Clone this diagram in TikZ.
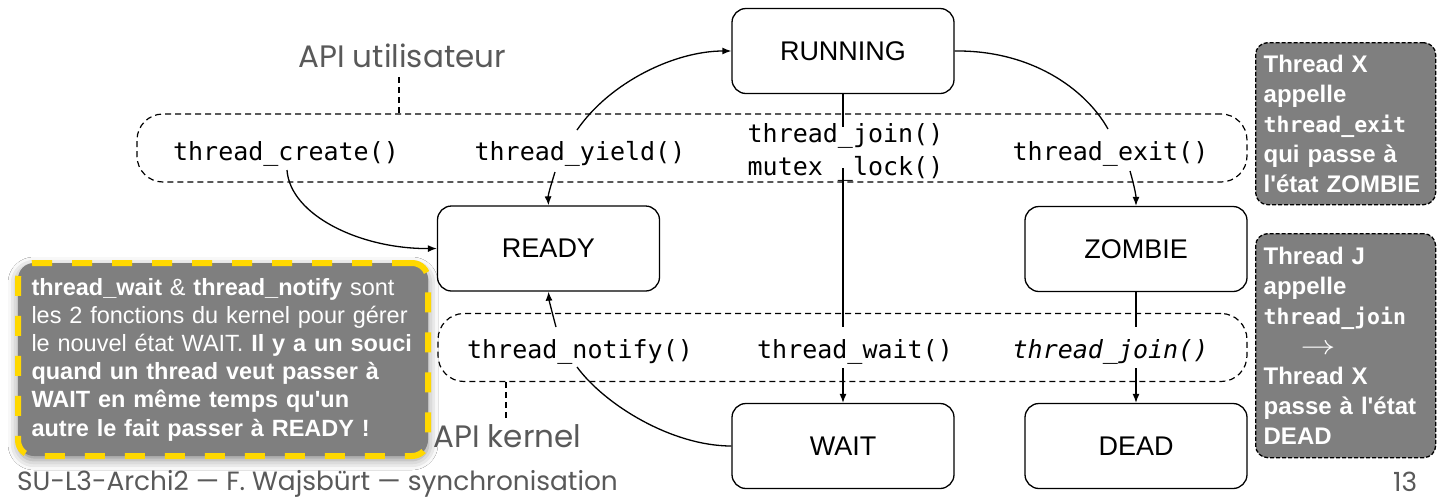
\documentclass[tikz,border=0pt]{standalone}
\usepackage{fontspec}
\setmainfont{Liberation Sans}
\newfontfamily\codefont{DejaVu Sans Mono}
\newfontfamily\slidefont{Poppins}
\usetikzlibrary{arrows.meta,shadows.blur}
\definecolor{boxgray}{HTML}{7F7F7F}
\definecolor{notegold}{HTML}{FFD800}
\definecolor{captiongray}{HTML}{595959}

\begin{document}
\begin{tikzpicture}[x=1pt,y=-1pt,
  state/.style={draw, line width=1.3pt, rounded corners=14pt,
    minimum width=222pt, minimum height=85pt, inner sep=0pt,
    font=\fontsize{27pt}{32pt}\selectfont},
  call/.style={inner sep=0pt, anchor=base,
    font=\codefont\fontsize{25pt}{33pt}\selectfont},
  apiband/.style={draw, line width=1.2pt, dash pattern=on 6pt off 4pt,
    rounded corners=26pt, minimum height=68pt, inner sep=0pt},
  leader/.style={line width=1.2pt, dash pattern=on 6pt off 4pt},
  caption/.style={inner sep=0pt, anchor=base west, text=captiongray,
    font=\slidefont\fontsize{31pt}{36pt}\selectfont},
  footer/.style={inner sep=0pt, anchor=base west, text=captiongray,
    font=\slidefont\fontsize{26.4pt}{30pt}\selectfont},
  link/.style={line width=1.3pt},
  arrow/.style={link, -{Latex[length=9pt,width=7pt]}},
  infobox/.style={draw, line width=1.3pt, dash pattern=on 4pt off 2pt,
    fill=boxgray, rounded corners=12pt, anchor=north west,
    inner xsep=8pt, inner ysep=0pt, align=left, text=white,
    font=\bfseries\fontsize{24pt}{30pt}\selectfont},
  warnbox/.style={draw=notegold, line width=6pt, dash pattern=on 20pt off 20pt,
    fill=boxgray, rounded corners=16pt, anchor=north west,
    inner xsep=13.5pt, inner ysep=0pt, align=left, text=white,
    blur shadow={shadow xshift=0pt, shadow yshift=-4pt,
      shadow blur radius=10pt, shadow opacity=45},
    font=\fontsize{23.5pt}{28.2pt}\selectfont}
]
\fill[white] (0,0) rectangle (1443,499);
\useasboundingbox (0,0) rectangle (1443,499);

% dashed bands grouping the API calls
\node[apiband, minimum width=1110pt] (uapi) at (692,148) {};
\node[apiband, minimum width=809pt] (kapi) at (842.5,347.5) {};

% band captions with their leaders
\node[caption] (ucap) at (298,67) {API utilisateur};
\node[caption] (kcap) at (433,447) {API kernel};
\coordinate (utick) at (399,77);
\coordinate (ktick) at (506,418);
\draw[leader] (utick) -- (utick |- uapi.north);
\draw[leader] (ktick) -- (ktick |- kapi.south);

% thread states
\node[state] (run)   at (843,51)      {RUNNING};
\node[state] (ready) at (548.5,248.5) {READY};
\node[state] (zom)   at (1136,249)    {ZOMBIE};
\node[state] (wait)  at (843,446)     {WAIT};
\node[state] (dead)  at (1136,446)    {DEAD};

% API call labels
\node[call] (create) at (286,160)    {thread\_create()};
\node[call] (yield)  at (580,160)    {thread\_yield()};
\node[call] (join)   at (845.5,142)  {thread\_join()};
\node[call] (mutex)  at (845.5,175)  {mutex \_lock()};
\node[call] (exit)   at (1110.5,160) {thread\_exit()};
\node[call] (notify) at (580,358)    {thread\_notify()};
\node[call] (twait)  at (855,358)    {thread\_wait()};
\node[call] (kjoin)  at (1110.5,358) {\itshape thread\_join()};

% end points of the transitions next to the labels
\coordinate (yup)  at (577,130);
\coordinate (yldn) at (555,172);
\coordinate (crdn) at (287,170);
\coordinate (exup) at (1108,129);
\coordinate (exdn) at (1130,171);
\coordinate (jnup) at (843,127);
\coordinate (jndn) at (843,168);
\coordinate (wtup) at (843,327);
\coordinate (wtdn) at (843,368);
\coordinate (ntup) at (556,327);
\coordinate (ntdn) at (577,367);
\coordinate (joup) at (1136,327);
\coordinate (jodn) at (1136,368);

% transitions
\draw[arrow] (yup) .. controls (610,82) and (675,51) .. (run.west);
\draw[link]  (run.east) .. controls (1030,50) and (1085,88) .. (exup);
\draw[arrow] (exdn) .. controls (1134,185) and (1136,195) .. (zom.north);
\draw[arrow] (crdn) .. controls (290,215) and (360,249) .. (ready.west);
\draw[arrow] (yldn) .. controls (551,185) and (548,195) .. (ready.north);
\draw[link]  (run.south) -- (jnup);
\draw[link]  (jndn) -- (wtup);
\draw[arrow] (wtdn) -- (wait.north);
\draw[link]  (wait.west) .. controls (672,446) and (605,405) .. (ntdn);
\draw[arrow] (ntup) .. controls (552,312) and (549,300) .. (ready.south);
\draw[link]  (zom.south) -- (joup);
\draw[arrow] (jodn) -- (dead.north);

% side notes
\node[infobox, minimum width=180pt, minimum height=162pt, text width=164pt]
  (noteexit) at (1255,42)
  {Thread X\\ appelle\\
   {\codefont\fontsize{21.5pt}{30pt}\selectfont thread\_exit}\\
   qui passe à\\ l\textquotesingle état ZOMBIE};
\node[infobox, minimum width=180pt, minimum height=224pt, text width=164pt]
  (notejoin) at (1255,233)
  {Thread J\\ appelle\\
   {\codefont\fontsize{21.5pt}{30pt}\selectfont thread\_join}\\
   \hspace*{37pt}{\mdseries\scalebox{1.4}[1.1]{$\rightarrow$}}\\
   Thread X\\ passe à l\textquotesingle état\\ DEAD};
\node[warnbox, minimum width=410pt, minimum height=193pt, text width=383pt]
  (warn) at (15,260)
  {\textbf{thread\_wait} \& \textbf{thread\_notify} sont\\
   les 2 fonctions du kernel pour gérer\\
   le nouvel état WAIT. \textbf{Il y a un souci}\\
   \textbf{quand un thread veut passer à}\\
   \textbf{WAIT en même temps qu\textquotesingle un}\\
   \textbf{autre le fait passer à READY !}};

% slide footer
\node[footer] (foot) at (17,490) {SU-L3-Archi2 — F. Wajsbürt — synchronisation};
\node[footer] (page) at (1393,491) {13};
\end{tikzpicture}
\end{document}
